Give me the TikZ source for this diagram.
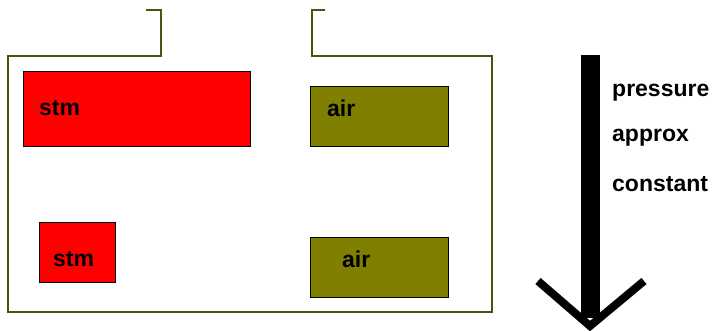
\documentclass[tikz,border=0pt]{standalone}
\usepackage{fontspec}
\setmainfont{Liberation Sans}
\definecolor{olivebox}{RGB}{128,128,0}
\definecolor{wall}{RGB}{80,80,20}
\begin{document}
\begin{tikzpicture}[x=1pt,y=-1pt,
  wallline/.style={draw=wall,line width=1.4pt},
  stmbox/.style={draw=black,fill=red,line width=1pt},
  airbox/.style={draw=black,fill=olivebox,line width=1pt},
  lbl/.style={anchor=west,inner sep=0pt,font=\fontsize{23}{23}\selectfont\bfseries},
  side/.style={anchor=west,inner sep=0pt,font=\fontsize{23}{23}\selectfont\bfseries}]
\useasboundingbox (0,0) rectangle (722,330);
% container
\draw[wallline] (146,10) -- (161,10) -- (161,56) -- (8,56) -- (8,312) -- (492,312) -- (492,56) -- (312,56) -- (312,10) -- (325,10);
% boxes
\draw[stmbox] (23,71) rectangle (250,146);
\node[lbl] (stm1) at (39,108) {stm};
\draw[airbox] (310,86) rectangle (448,146);
\node[lbl] (air1) at (327,108) {air};
\draw[stmbox] (39,222) rectangle (115,282);
\node[lbl] (stm2) at (53,259) {stm};
\draw[airbox] (310,237) rectangle (448,297);
\node[lbl] (air2) at (342,259) {air};
% arrow
\coordinate (top) at (590,55);
\coordinate (tip) at (590,326);
\coordinate (hl) at (538,281);
\coordinate (hr) at (644,281);
\draw[line width=19pt] (top) -- (590,318);
\draw[line width=8pt] (hl) -- (tip) -- (hr);
% text
\node[side] (p) at (612,93) {pressure};
\node[side] (a) at (612,138) {approx};
\node[side] (c) at (612,184) {constant};
\end{tikzpicture}
\end{document}
